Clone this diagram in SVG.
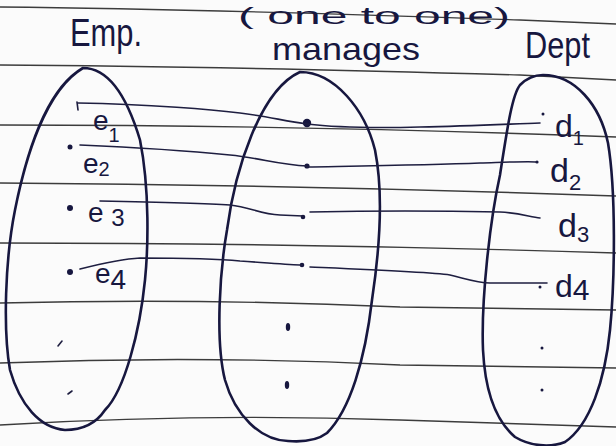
<svg xmlns="http://www.w3.org/2000/svg" width="616" height="446" viewBox="0 0 616 446">
<defs>
<style>
.paper{fill:#fbfbfb}
.rule{fill:none;stroke:#3c3c3c;stroke-width:1.4}
.set{fill:none;stroke:#17173f;stroke-width:2.6;stroke-linejoin:round}
.ink{fill:#17173f}
.conn{fill:none;stroke:#1e1e40;stroke-width:1.6;stroke-linecap:round}
.lbl{font-family:"Liberation Sans",Arial,sans-serif;fill:#17173f}
</style>
</defs>
<rect class="paper" x="0" y="0" width="616" height="446"/>
<g id="ruled-lines">
<path class="rule" d="M0,7 Q200,9 520,20 L616,24"/>
<path class="rule" d="M0,65 Q200,66 520,75 L616,80"/>
<path class="rule" d="M0,125 Q300,125 616,137"/>
<path class="rule" d="M0,183 Q300,185 616,196"/>
<path class="rule" d="M0,243 Q300,243 616,253"/>
<path class="rule" d="M0,303 Q200,298 400,307 L616,310"/>
<path class="rule" d="M0,363 Q200,355 400,365 L616,368"/>
<path class="rule" d="M0,425 Q200,413 400,420 L616,427"/>
</g>
<text class="lbl" x="238" y="24" font-size="24" textLength="272" lengthAdjust="spacingAndGlyphs">( one to one)</text>
<g id="emp">
<path class="set" d="M83,68 C110,68 128,100 140,140 C150,190 148,250 145,280 C140,330 125,390 105,410 C95,425 80,430 65,430 C40,428 20,405 10,370 C3,330 5,260 15,210 C25,160 45,90 83,68 Z"/>
<text class="lbl" x="70" y="46" font-size="38" textLength="72" lengthAdjust="spacingAndGlyphs">Emp.</text>
<path class="conn" d="M77,102 L78,110"/>
<text class="lbl" x="93" y="130" font-size="28">e<tspan font-size="20" dy="12">1</tspan></text>
<circle class="ink" cx="70" cy="147" r="2.5"/>
<text class="lbl" x="83" y="173" font-size="28">e<tspan font-size="20" dy="3">2</tspan></text>
<circle class="ink" cx="70" cy="208" r="3"/>
<text class="lbl" x="88" y="222" font-size="28">e <tspan font-size="24" dy="4">3</tspan></text>
<circle class="ink" cx="70" cy="272" r="3"/>
<text class="lbl" x="95" y="283" font-size="28">e<tspan font-size="28" dy="6">4</tspan></text>
<path class="conn" d="M58,346 L62,341" stroke-width="2.2"/>
<path class="conn" d="M68,394 L72,391" stroke-width="2.2"/>
</g>
<g id="manages">
<path class="set" d="M300,72 C335,72 365,110 375,150 C385,200 378,260 372,300 C365,360 350,410 327,433 C315,442 300,442 288,441 C260,440 235,415 225,380 C215,340 220,270 227,230 C235,170 260,90 300,72 Z"/>
<text class="lbl" x="272" y="60" font-size="32" textLength="148" lengthAdjust="spacingAndGlyphs">manages</text>
<circle class="ink" cx="307" cy="123" r="4.2"/>
<circle class="ink" cx="307" cy="166" r="2.6"/>
<circle class="ink" cx="303" cy="217" r="2.3"/>
<circle class="ink" cx="302" cy="265" r="2.3"/>
<ellipse class="ink" cx="288" cy="327" rx="2.2" ry="4"/>
<ellipse class="ink" cx="287" cy="385" rx="2.2" ry="4"/>
</g>
<g id="dept">
<path class="set" d="M543,75 C575,75 600,105 608,143 C616,190 615,280 610,330 C605,380 590,425 565,442 C550,448 530,446 515,437 C495,420 485,390 483,350 C481,300 490,220 500,175 C507,130 512,95 520,85 C528,77 535,75 543,75 Z"/>
<text class="lbl" x="525" y="58" font-size="36" textLength="65" lengthAdjust="spacingAndGlyphs">Dept</text>
<circle class="ink" cx="543" cy="114" r="1.5"/>
<text class="lbl" x="555" y="137" font-size="32">d<tspan font-size="20" dy="8">1</tspan></text>
<circle class="ink" cx="537" cy="162" r="1.6"/>
<text class="lbl" x="550" y="182" font-size="34">d<tspan font-size="22" dy="8">2</tspan></text>
<text class="lbl" x="558" y="237" font-size="34">d<tspan font-size="22" dy="5">3</tspan></text>
<circle class="ink" cx="540" cy="287" r="1.5"/>
<text class="lbl" x="555" y="297" font-size="32">d<tspan font-size="30" dy="3">4</tspan></text>
<circle class="ink" cx="542" cy="348" r="1.5"/>
<circle class="ink" cx="542" cy="390" r="1.5"/>
</g>
<g id="connectors">
<path class="conn" d="M78,103 C150,104 215,110 240,113 C265,116 285,121 307,124"/>
<path class="conn" d="M307,124 C340,128 380,128 420,127 C470,126 510,124 540,123"/>
<path class="conn" d="M80,145 C150,148 200,152 230,155 C260,158 280,165 307,166"/>
<path class="conn" d="M307,167 C360,166 430,165 480,163 C510,162 530,161 537,162"/>
<path class="conn" d="M100,201 C150,202 200,203 230,205 C250,207 260,214 280,215 L303,216"/>
<path class="conn" d="M310,212 C360,211 450,211 500,212 C520,213 530,217 540,218"/>
<path class="conn" d="M80,269 C100,264 120,259 140,258 C180,258 220,259 240,261 C270,263 290,265 302,265"/>
<path class="conn" d="M310,267 C380,270 430,272 450,275 C470,280 478,283 490,283 L547,283"/>
</g>
</svg>
